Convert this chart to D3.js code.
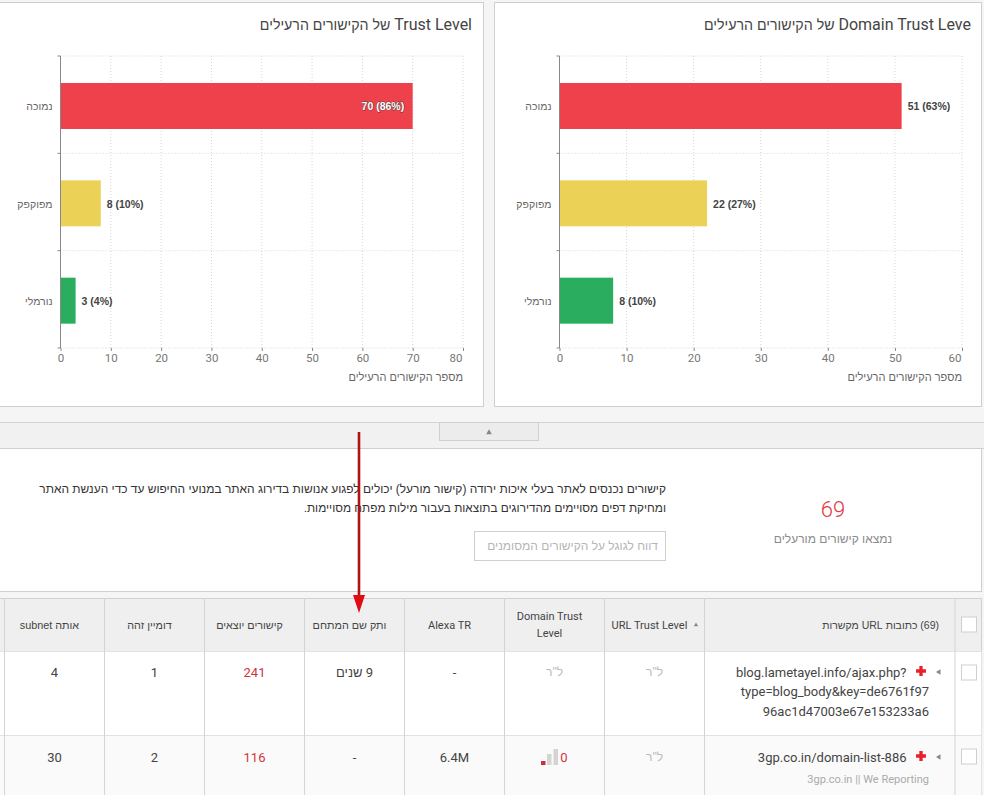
<!DOCTYPE html>
<html lang="he">
<head>
<meta charset="utf-8">
<script src="https://cdnjs.cloudflare.com/ajax/libs/d3/7.8.5/d3.min.js"></script>
<style>
html,body{margin:0;padding:0;background:#f5f5f5;overflow:hidden}
svg{display:block}
text{font-family:Roboto,"Liberation Sans",sans-serif}
.he{font-family:"Liberation Sans",Arial,sans-serif}
</style>
</head>
<body>
<svg id="c" width="984" height="795"></svg>
<script>
const categories = ["נמוכה","מפוקפק","נורמלי"];
const barColors = ["#ee414c","#ebd155","#2bad5f"];
const domainValues = [51,22,8];
const domainPercents = [63,27,10];
const trustValues = [70,8,3];
const trustPercents = [86,10,4];
const domainTicks = [0,10,20,30,40,50,60];
const trustTicks = [0,10,20,30,40,50,60,70,80];
const domainTitle = "Domain Trust Leve";
const trustTitle = "Trust Level";
const titleTail = " של הקישורים הרעילים";
const axisTitle = "מספר הקישורים הרעילים";
const headerLabels = ["(69) כתובות URL מקשרות","URL Trust Level","Domain Trust|Level","Alexa TR","ותק שם המתחם","קישורים יוצאים","דומיין זהה","אותה subnet"];
const row1 = ["ל\"ר","ל\"ר","-","9 שנים","241","1","4"];
const row2 = ["ל\"ר","0","6.4M","-","116","2","30"];
const colEdges = [955,704.5,604.5,504.5,404.5,304.5,204.5,104.5,4.5];

const svg = d3.select("#c");
function rtl(sel,x,y,str,size,fill,weight){
  return sel.append("text").attr("x",x).attr("y",y).attr("direction","rtl").attr("text-anchor","start")
    .attr("font-size",size).attr("fill",fill).attr("font-weight",weight||400).text(str);
}
function ctr(sel,x,y,str,size,fill){
  return sel.append("text").attr("x",x).attr("y",y).attr("text-anchor","middle").attr("direction","rtl")
    .attr("font-size",size).attr("fill",fill).text(str);
}
function box(sel,x,y,w,h,fill,stroke){
  return sel.append("rect").attr("x",x).attr("y",y).attr("width",w).attr("height",h).attr("fill",fill).attr("stroke",stroke||"none");
}

function panel(cfg){
  const g = svg.append("g");
  box(g,cfg.px,2.5,cfg.pw,404,"#fff","#cfcfcf");
  const tt = rtl(g,cfg.titleX,30,"",16,"#444");
  tt.append("tspan").text(cfg.title);
  tt.append("tspan").attr("font-size",14.2).attr("font-family","Liberation Sans").text(titleTail);
  const x = d3.scaleLinear().domain([0,cfg.ticks[cfg.ticks.length-1]]).range([cfg.x0,cfg.x1]);
  const y = d3.scaleBand().domain(categories).range([56,348]);
  const bounds = [0,1,2,3].map(i=>56+i*y.step());
  g.append("g").selectAll("line").data(cfg.ticks).join("line")
    .attr("x1",d=>x(d)).attr("x2",d=>x(d)).attr("y1",56).attr("y2",348)
    .attr("stroke","#d6d6d6").attr("stroke-dasharray","1 2");
  g.append("g").selectAll("line").data(bounds).join("line")
    .attr("x1",cfg.x0).attr("x2",cfg.x1).attr("y1",d=>d).attr("y2",d=>d)
    .attr("stroke","#d6d6d6").attr("stroke-dasharray","1 2");
  g.append("g").selectAll("rect").data(cfg.values).join("rect")
    .attr("x",cfg.x0).attr("y",(d,i)=>y(categories[i])+27)
    .attr("width",d=>x(d)-cfg.x0).attr("height",46)
    .attr("fill",(d,i)=>barColors[i]);
  const ax = g.append("g").attr("transform","translate(0,348)")
    .call(d3.axisBottom(x).tickValues(cfg.ticks).tickSize(3).tickPadding(3).tickSizeOuter(0));
  ax.select(".domain").remove();
  ax.selectAll("line").attr("stroke","#888");
  ax.selectAll("text").attr("font-family","Liberation Sans").attr("font-size",11.5).attr("fill","#777");
  ax.selectAll("text").filter(d=>d===cfg.ticks[cfg.ticks.length-1]).attr("text-anchor","end").attr("dx",-1);
  g.append("line").attr("x1",cfg.x0).attr("x2",cfg.x0).attr("y1",56).attr("y2",348).attr("stroke","#888");
  g.append("g").selectAll("line").data(bounds).join("line")
    .attr("x1",cfg.x0-3).attr("x2",cfg.x0).attr("y1",d=>d).attr("y2",d=>d).attr("stroke","#888");
  categories.forEach((c,i)=>{
    rtl(g,cfg.x0-8,y(c)+y.bandwidth()/2+5.5,c,10.5,"#666").attr("class","he");
  });
  cfg.values.forEach((v,i)=>{
    const label = v+" ("+cfg.percents[i]+"%)";
    const yy = y(categories[i])+y.bandwidth()/2+5.5;
    const inside = x(v)+6+60 > cfg.x1+4 && cfg.inside;
    const t = g.append("text").attr("class","he").attr("y",yy).attr("font-size",10.5).attr("font-weight",700);
    if(inside){
      t.attr("x",x(v)-8.5).attr("text-anchor","end").attr("fill","#fff")
       .attr("stroke","#444").attr("stroke-width",0.8).attr("paint-order","stroke").text(label);
    } else {
      t.attr("x",x(v)+6).attr("fill","#444").text(label);
    }
  });
  rtl(g,cfg.x1,380.5,axisTitle,11,"#666").attr("class","he");
}
panel({px:-10,pw:493.5,title:trustTitle,titleX:472,ticks:trustTicks,x0:60.5,x1:463,values:trustValues,percents:trustPercents,inside:true});
panel({px:494.5,pw:487,title:domainTitle,titleX:971,ticks:domainTicks,x0:559.5,x1:962,values:domainValues,percents:domainPercents,inside:false});

// collapse strip
box(svg,-2,422.5,988,26,"#f1f1f1","#d4d4d4");
box(svg,439.5,422.5,99,18,"#ececec","#cfcfcf");
svg.append("path").attr("d",d3.symbol(d3.symbolTriangle,14)()).attr("transform","translate(489,432.5)").attr("fill","#888");

// summary panel
const s = svg.append("g");
box(s,-2,448.5,983.5,143,"#fff","#cfcfcf");
ctr(s,833,517,"69",22,"#e2393f").attr("font-weight",300);
ctr(s,833,543,"נמצאו קישורים מורעלים",12,"#8a8a8a").attr("class","he");
rtl(s,666,493,"קישורים נכנסים לאתר בעלי איכות ירודה (קישור מורעל) יכולים לפגוע אנושות בדירוג האתר במנועי החיפוש עד כדי הענשת האתר",11.95,"#333").attr("class","he");
rtl(s,666,512,"ומחיקת דפים מסויימים מהדירוגים בתוצאות בעבור מילות מפתח מסויימות.",11.8,"#333").attr("class","he");
box(s,474.5,531.5,191,29,"#fff","#cfcfcf");
rtl(s,658,550,"דווח לגוגל על הקישורים המסומנים",12,"#b5b5b5").attr("class","he");

// table
const t = svg.append("g");
box(t,-2,598.5,983.5,53,"#efefef","#d0d0d0");
box(t,-2,651.5,983.5,84,"#fff","#e2e2e2");
box(t,-2,735.5,983.5,70,"#fafafa","#e2e2e2");
t.append("g").selectAll("line").data(colEdges).join("line")
  .attr("x1",d=>d).attr("x2",d=>d).attr("y1",598).attr("y2",795).attr("stroke","#d4d4d4");
const centers = d3.pairs(colEdges).map(([a,b])=>(a+b)/2);
rtl(t,939,629,headerLabels[0],10.5,"#444").attr("class","he");
ctr(t,649.5,629,headerLabels[1],11,"#444").attr("direction","ltr");
svg.append("path").attr("d",d3.symbol(d3.symbolTriangle,8)()).attr("transform","translate(696,625)").attr("fill","#888");
headerLabels[2].split("|").forEach((l,i)=>ctr(t,centers[2]-5,620+i*17,l,11,"#444").attr("direction","ltr"));
ctr(t,centers[3]-5,629,headerLabels[3],11,"#444").attr("direction","ltr");
for(let i=4;i<8;i++) ctr(t,centers[i]-5,629,headerLabels[i],10.8,"#444").attr("class","he");

// checkboxes
[617,665,749].forEach(yy=>box(t,961.5,yy,15,15,"#fff","#cfcfcf"));

// url cells
const dark="#444";
const urlR=[906.5,929,929];
["blog.lametayel.info/ajax.php?","type=blog_body&key=de6761f97","96ac1d47003e67e153233a6"].forEach((l,i)=>{
  t.append("text").attr("x",urlR[i]).attr("y",677+i*19.3).attr("text-anchor","end").attr("font-size",13).attr("fill",dark).text(l);
});
t.append("text").attr("x",906.5).attr("y",761.5).attr("text-anchor","end").attr("font-size",13).attr("fill",dark).text("3gp.co.in/domain-list-886");
t.append("text").attr("x",929).attr("y",783).attr("text-anchor","end").attr("font-size",11).attr("fill","#aaa").text("3gp.co.in || We Reporting");
[671,756].forEach(yy=>{
  const plus=d3.symbol(d3.symbolCross,55)();
  t.append("path").attr("d",plus).attr("transform",`translate(921,${yy})`).attr("fill","#e8202a");
  t.append("path").attr("d",d3.symbol(d3.symbolTriangle,12)()).attr("transform",`translate(939,${yy+1}) rotate(-90)`).attr("fill","#888");
});

// other cells
const redCols = new Set([4]);
function cells(row,yy){
  row.forEach((v,i)=>{
    const cx=centers[i+1];
    if(v==="ל\"ר"){ ctr(t,cx,yy-1,v,12,"#bbb").attr("class","he"); return; }
    if(i===1 && v==="0"){
      ctr(t,564,yy,v,13,"#d2333b");
      return;
    }
    ctr(t,cx,yy,v,13,redCols.has(i)?"#d2333b":dark);
  });
}
cells(row1,677);
cells(row2,761.5);
// signal bars in Domain Trust Level cell
const sig=[{x:541,h:4,c:"#c8303a"},{x:547,h:11,c:"#d4d4d4"},{x:553.5,h:16,c:"#d4d4d4"}];
t.append("g").selectAll("rect").data(sig).join("rect")
  .attr("x",d=>d.x).attr("y",d=>765-d.h).attr("width",4.5).attr("height",d=>d.h).attr("fill",d=>d.c);

// annotation arrow
const a = svg.append("g");
a.append("line").attr("x1",359).attr("x2",359).attr("y1",432).attr("y2",598).attr("stroke","#b01217").attr("stroke-width",2.6);
a.append("path").attr("d","M353 595 L365 595 L359 613 Z").attr("fill","#e00c12");
</script>
</body>
</html>
